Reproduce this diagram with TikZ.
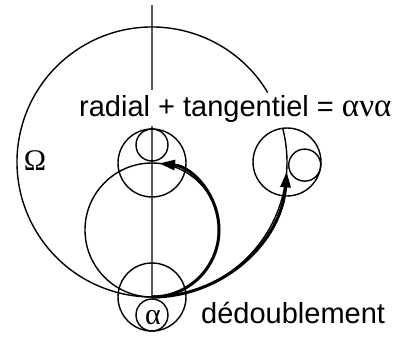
\documentclass[tikz,border=0pt]{standalone}
\usepackage{fontspec}
\setmainfont{Liberation Sans}
\newfontfamily\grk{Liberation Serif}
\usetikzlibrary{arrows.meta,calc}

\begin{document}
\begin{tikzpicture}[x=1pt, y=1pt,
    ring/.style={line width=1.4pt},
    axis/.style={line width=1.7pt, black!65},
    arr/.style={-{Triangle[length=16pt,width=10pt]}, line width=3pt},
    lbl/.style={font=\fontsize{29}{32}\selectfont, inner sep=0pt},
    glbl/.style={font=\grk\fontsize{30}{32}\selectfont, inner sep=0pt}
]
\useasboundingbox (0,0) rectangle (405,338);
\coordinate (O) at (152,176);
\coordinate (M) at (152,108);
\coordinate (T) at (152,175);
\coordinate (B) at (152,41);
\coordinate (R) at (287,176);
\coordinate (top) at (152,333);

\node[lbl, anchor=base west] (eqn) at (79,221) {radial + tangentiel = {\grk\fontsize{33}{34}\selectfont ανα}};
\node[lbl, anchor=base west] (dbl) at (201,15) {dédoublement};
\node[glbl] (omega) at (35,177) {Ω};
\node[glbl] (alpha) at (153,20) {α};

\draw[axis] (top) -- ($(top |- eqn.north)+(0,6)$);
\draw[axis] ($(B |- eqn.south)-(0,3)$) -- (B);

\draw[ring] (O) ++(31:135pt) arc[start angle=31, end angle=374.5, radius=135pt];
\draw[ring] (M) circle[radius=67pt];
\draw[ring] (T) circle[radius=34pt];
\draw[ring] (B) circle[radius=34pt];
\draw[ring] (R) circle[radius=34pt];
\draw[ring] ($(T)+(0,18)$) circle[radius=16pt];
\draw[ring] ($(B)-(0,18)$) circle[radius=16pt];
\draw[ring] ($(R)+(-10:18)$) circle[radius=16pt];

\draw[arr] (B) arc[start angle=-90, end angle=84, radius=67pt];
\draw[arr] (B) arc[start angle=-90, end angle=-4, radius=135pt];
\end{tikzpicture}
\end{document}
